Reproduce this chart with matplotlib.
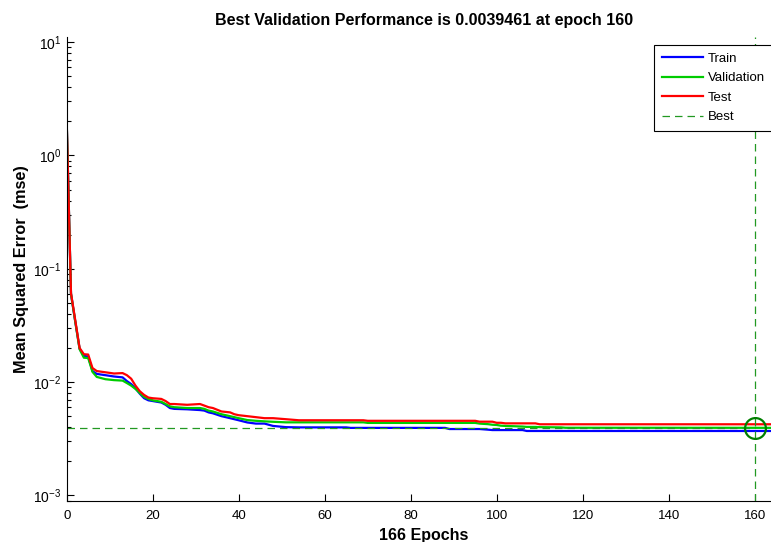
import matplotlib
matplotlib.use("Agg")
import matplotlib.pyplot as plt

plt.rcParams['font.family'] = ['Liberation Sans', 'DejaVu Sans']
plt.rcParams['mathtext.fontset'] = 'custom'
plt.rcParams['mathtext.rm'] = 'Liberation Sans'

# epochs where the curves change slope
epochs = [0, 1, 2, 3, 4, 5, 6, 7, 9, 11, 13, 14, 15, 16, 17, 18, 19, 20,
          22, 23, 24, 25, 28, 31, 32, 33, 34, 36, 38, 39, 40,
          42, 44, 46, 48, 51, 54, 65, 66, 69, 70,
          88, 89, 95, 96, 98, 99, 100, 101, 102,
          106, 107, 109, 110, 115, 116, 160, 166]

test_mse = [2.0, 0.061, 0.035, 0.0200, 0.0176, 0.0175, 0.0133, 0.0125, 0.0122, 0.0119,
            0.0120, 0.0115, 0.0107, 0.0093, 0.0083, 0.0077, 0.0073, 0.0072,
            0.0071, 0.0068, 0.0064, 0.0064, 0.0063, 0.0064, 0.0062, 0.0060, 0.0059,
            0.0055, 0.0054, 0.0052, 0.0051,
            0.0050, 0.0049, 0.0048, 0.0048, 0.0047, 0.0046, 0.0046, 0.0046, 0.0046, 0.00455,
            0.00455, 0.00455, 0.00455, 0.00447, 0.00447, 0.00447, 0.00437, 0.00437, 0.00432,
            0.00432, 0.00432, 0.00432, 0.00424, 0.00424, 0.00424, 0.00424, 0.00424]

val_mse = [2.0, 0.060, 0.034, 0.0195, 0.0164, 0.0163, 0.0123, 0.0111, 0.0106, 0.0104,
           0.0103, 0.0098, 0.0093, 0.0087, 0.0080, 0.0074, 0.0071, 0.0069,
           0.0067, 0.0064, 0.0061, 0.0060, 0.0059, 0.0059, 0.0058, 0.0056, 0.0055,
           0.0052, 0.0050, 0.0049, 0.0048,
           0.00462, 0.00455, 0.00450, 0.00446, 0.00441, 0.00441, 0.00441, 0.00441, 0.00441, 0.00436,
           0.00436, 0.00436, 0.00436, 0.00430, 0.00425, 0.00420, 0.00418, 0.00412, 0.00410,
           0.00405, 0.00402, 0.00402, 0.00400, 0.00398, 0.00395, 0.0039461, 0.00394]

train_mse = [2.0, 0.060, 0.034, 0.0197, 0.0170, 0.0168, 0.0125, 0.0118, 0.0115, 0.0112,
             0.0110, 0.0102, 0.0096, 0.0088, 0.0079, 0.0072, 0.0069, 0.0068,
             0.0066, 0.0063, 0.0059, 0.0058, 0.00575, 0.00566, 0.0056, 0.0054, 0.0053,
             0.0050, 0.0048, 0.0047, 0.0046,
             0.0044, 0.0043, 0.0043, 0.0041, 0.0040, 0.00398, 0.00398, 0.00394, 0.00394, 0.00394,
             0.00394, 0.00385, 0.00385, 0.00385, 0.00380, 0.00377, 0.00377, 0.00377, 0.00377,
             0.00377, 0.00370, 0.00370, 0.00370, 0.00370, 0.00370, 0.00370, 0.00370]

best_epoch = 160
best_perf = 0.0039461
n_epochs = 166

fig = plt.figure(figsize=(7.71, 5.42), dpi=100)
ax = fig.add_axes([0.0865, 0.0756, 0.9258, 0.856])

ax.plot(epochs, train_mse, color='#0000ff', lw=1.6, label='Train')
ax.plot(epochs, val_mse, color='#00cc00', lw=1.6, label='Validation')
ax.plot(epochs, test_mse, color='#ff0000', lw=1.6, label='Test')

ylo, yhi = 10 ** -3.05, 10 ** 1.045
best_col = '#229922'
ax.plot([0, best_epoch], [best_perf, best_perf], color=best_col, lw=0.9,
        dashes=(6, 4), label='Best')
ax.plot([best_epoch, best_epoch], [ylo, yhi], color=best_col, lw=0.9, dashes=(6, 4))
ax.plot([best_epoch], [best_perf], 'o', mfc='none', mec='#007f00', ms=15, mew=1.6)

ax.set_yscale('log')
ax.set_xlim(0, n_epochs)
ax.set_ylim(ylo, yhi)
ax.set_xticks(range(0, 161, 20))

ax.tick_params(which='both', direction='in', width=0.8)
ax.tick_params(axis='x', labelsize=9.5, pad=6.5)
ax.tick_params(axis='y', labelsize=10, pad=4)
ax.tick_params(which='major', length=5)
ax.tick_params(which='minor', length=3)
ax.spines['top'].set_visible(False)
for s in ['left', 'bottom']:
    ax.spines[s].set_linewidth(0.8)

ax.set_title('Best Validation Performance is 0.0039461 at epoch 160',
             fontsize=11.5, fontweight='bold', pad=8.5)
ax.set_xlabel('166 Epochs', fontsize=11.5, fontweight='bold', labelpad=4)
ax.set_ylabel('Mean Squared Error  (mse)', fontsize=11.7, fontweight='bold', labelpad=3)

leg = fig.legend(loc='upper left', bbox_to_anchor=(654 / 771, 1 - 44.7 / 542),
                 fontsize=9.5, fancybox=False, framealpha=1, edgecolor='black',
                 handlelength=3.1, handletextpad=0.4, labelspacing=0.55,
                 borderpad=0.6, borderaxespad=0)
leg.get_frame().set_linewidth(0.8)

fig.savefig('out.png', dpi=100)
